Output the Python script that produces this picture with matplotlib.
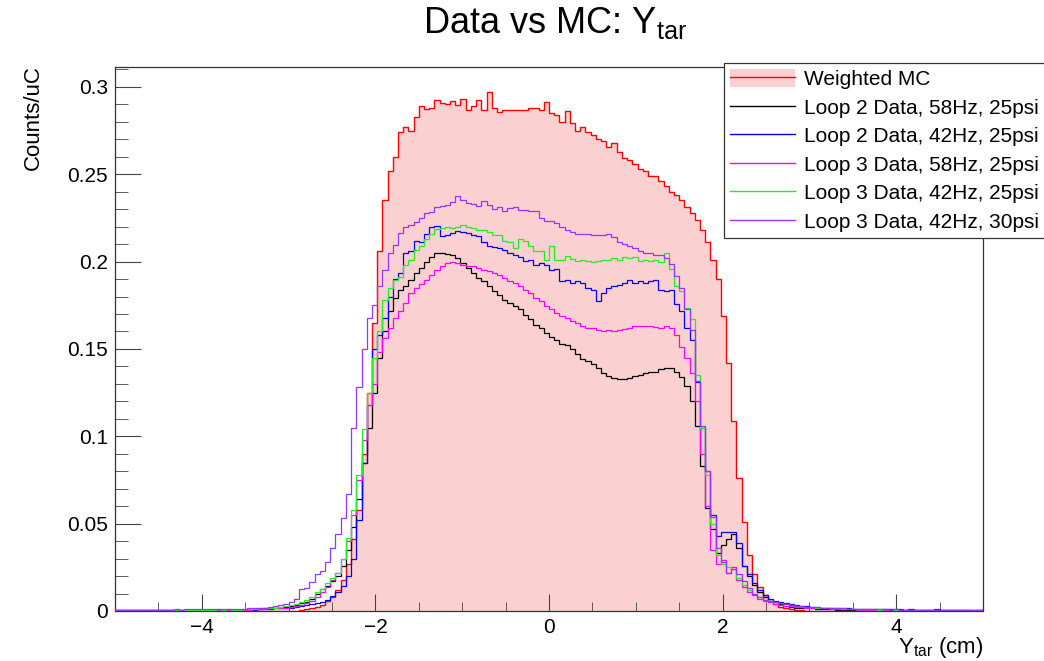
import numpy as np
import matplotlib
matplotlib.use("Agg")
import matplotlib.pyplot as plt
from matplotlib.patches import Patch
from matplotlib.lines import Line2D

plt.rcParams['font.family'] = ['Liberation Sans', 'DejaVu Sans']
plt.rcParams['mathtext.fontset'] = 'custom'
plt.rcParams['mathtext.rm'] = 'Liberation Sans'
plt.rcParams['mathtext.it'] = 'Liberation Sans'

# ---------------- data (bin width 0.06, edges at multiples of 0.06) ----------------
bin_width = 0.06
first_edge_index = -84          # first edge = -84*0.06 = -5.04
# left tails: bins k=-84..-61 ; core: k=-60..59 ; right tails: k=60..83

mc_left = [0.0]*24
mc_core = [
    0, 0, 0, 0, 0, 0, 0, 0, 0, 0,
    0, 0, 0.0005, 0.001, 0.0015, 0.0025, 0.0035, 0.006, 0.008, 0.012,
    0.018, 0.027, 0.041, 0.058, 0.090, 0.125, 0.165, 0.206, 0.235, 0.252,
    0.260, 0.274, 0.277, 0.275, 0.283, 0.289, 0.2875, 0.288, 0.2926, 0.291,
    0.290, 0.292, 0.2897, 0.293, 0.2869, 0.2888, 0.2926, 0.2869, 0.2969, 0.2878,
    0.2859, 0.2869, 0.2865, 0.2865, 0.287, 0.287, 0.2878, 0.2878, 0.2869, 0.2912,
    0.2852, 0.2837, 0.2800, 0.2862, 0.2792, 0.2750, 0.2768, 0.2740, 0.2724, 0.2702,
    0.2688, 0.2655, 0.2679, 0.2626, 0.2592, 0.2583, 0.2559, 0.2530, 0.2516, 0.2492,
    0.249, 0.246, 0.243, 0.240, 0.238, 0.235, 0.231, 0.228, 0.224, 0.218,
    0.211, 0.201, 0.190, 0.169, 0.142, 0.109, 0.076, 0.051, 0.032, 0.021,
    0.014, 0.009, 0.006, 0.004, 0.0025, 0.0015, 0.001, 0.0005, 0.0003, 0,
    0, 0, 0, 0, 0, 0, 0, 0, 0, 0,
]
mc_right = [0.0]*24

black_left = [0.0004, 0.0005, 0.0004, 0.0005, 0.0006, 0.0005, 0.0004, 0.0006,
              0.0005, 0.0006, 0.0005, 0.0006, 0.0007, 0.0006, 0.0006, 0.0007,
              0.0007, 0.0006, 0.0007, 0.0008, 0.0007, 0.0008, 0.0007, 0.0008]
black_core = [
    0.0008, 0.0008, 0.001, 0.001, 0.0012, 0.0015, 0.0015, 0.002, 0.002, 0.0025,
    0.003, 0.0035, 0.0045, 0.005, 0.007, 0.0097, 0.0126, 0.0145, 0.0173, 0.0202,
    0.026, 0.035, 0.048, 0.064, 0.085, 0.105, 0.125, 0.145, 0.160, 0.172,
    0.179, 0.184, 0.186, 0.1897, 0.1935, 0.1965, 0.2000, 0.2025, 0.2050, 0.2048,
    0.2045, 0.2040, 0.2021, 0.1992, 0.1964, 0.1935, 0.1907, 0.1888, 0.1859, 0.1830,
    0.1811, 0.1783, 0.1764, 0.1745, 0.1726, 0.1697, 0.1669, 0.1640, 0.1621, 0.1592,
    0.1570, 0.1554, 0.1526, 0.1520, 0.1497, 0.1469, 0.1440, 0.1430, 0.1412, 0.1390,
    0.1364, 0.1345, 0.1335, 0.1330, 0.1330, 0.1335, 0.1345, 0.1350, 0.1360, 0.1370,
    0.1370, 0.1383, 0.1390, 0.1390, 0.1370, 0.1340, 0.1290, 0.1200, 0.1060, 0.0830,
    0.059, 0.047, 0.033, 0.038, 0.041, 0.044, 0.036, 0.026, 0.020, 0.015,
    0.011, 0.008, 0.006, 0.005, 0.004, 0.003, 0.0025, 0.002, 0.002, 0.0015,
    0.0015, 0.0012, 0.001, 0.001, 0.001, 0.0008, 0.0008, 0.0008, 0.0006, 0.0006,
]
black_right = [0.0006, 0.0005, 0.0005, 0.0006, 0.0005, 0.0004, 0.0005, 0.0004,
               0.0004, 0.0005, 0.0004, 0.0003, 0.0004, 0.0004, 0.0003, 0.0004,
               0.0003, 0.0003, 0.0004, 0.0003, 0.0003, 0.0002, 0.0003, 0.0003]

blue_left = [0.0004, 0.0005, 0.0005, 0.0004, 0.0005, 0.0006, 0.0005, 0.0005,
             0.0006, 0.0005, 0.0006, 0.0006, 0.0005, 0.0006, 0.0006, 0.0007,
             0.0006, 0.0006, 0.0007, 0.0006, 0.0007, 0.0006, 0.0007, 0.0006]
blue_core = [
    0.0006, 0.0006, 0.0008, 0.0008, 0.001, 0.001, 0.0012, 0.0015, 0.0015, 0.002,
    0.002, 0.0025, 0.003, 0.0034, 0.004, 0.0045, 0.005, 0.0065, 0.0088, 0.011,
    0.0145, 0.020, 0.030, 0.052, 0.085, 0.118, 0.150, 0.158, 0.168, 0.180,
    0.190, 0.1935, 0.2050, 0.2059, 0.2116, 0.2112, 0.2159, 0.2197, 0.2202, 0.2145,
    0.2154, 0.2164, 0.2173, 0.2170, 0.2164, 0.2150, 0.2145, 0.2110, 0.2090, 0.2085,
    0.2078, 0.2069, 0.2050, 0.2040, 0.2025, 0.2005, 0.2010, 0.1978, 0.1992, 0.1982,
    0.1954, 0.1958, 0.1890, 0.1897, 0.1880, 0.1890, 0.1880, 0.1850, 0.1840, 0.1775,
    0.1820, 0.1850, 0.1860, 0.1865, 0.1880, 0.1895, 0.1880, 0.1890, 0.1880, 0.1890,
    0.1892, 0.1840, 0.1830, 0.1840, 0.1760, 0.1720, 0.1620, 0.1550, 0.1310, 0.1050,
    0.080, 0.055, 0.043, 0.045, 0.045, 0.045, 0.039, 0.026, 0.021, 0.016,
    0.012, 0.009, 0.007, 0.006, 0.005, 0.0045, 0.004, 0.0035, 0.003, 0.003,
    0.0025, 0.0025, 0.002, 0.002, 0.002, 0.0018, 0.0015, 0.0015, 0.0012, 0.0012,
]
blue_right = [0.0012, 0.001, 0.0012, 0.001, 0.001, 0.0009, 0.001, 0.0009,
              0.0008, 0.0009, 0.0008, 0.0008, 0.0007, 0.0008, 0.0012, 0.0007,
              0.0006, 0.0007, 0.0006, 0.0005, 0.0006, 0.0005, 0.0005, 0.0005]

magenta_left = [0.0005, 0.0004, 0.0005, 0.0005, 0.0006, 0.0005, 0.0005, 0.0006,
                0.0006, 0.0005, 0.0006, 0.0007, 0.0006, 0.0006, 0.0007, 0.0006,
                0.0007, 0.0007, 0.0006, 0.0007, 0.0008, 0.0007, 0.0008, 0.0007]
magenta_core = [
    0.0006, 0.0006, 0.0008, 0.001, 0.001, 0.0012, 0.0015, 0.0015, 0.002, 0.002,
    0.0025, 0.003, 0.0035, 0.0045, 0.006, 0.008, 0.011, 0.014, 0.018, 0.022,
    0.030, 0.040, 0.055, 0.075, 0.098, 0.118, 0.130, 0.148, 0.156, 0.162,
    0.168, 0.172, 0.1764, 0.1821, 0.1850, 0.1870, 0.1897, 0.1926, 0.1954, 0.1975,
    0.1992, 0.1995, 0.1992, 0.1983, 0.1973, 0.1973, 0.1964, 0.1954, 0.1945, 0.1935,
    0.1926, 0.1907, 0.1888, 0.1878, 0.1859, 0.1840, 0.1821, 0.1792, 0.1773, 0.1745,
    0.1726, 0.1707, 0.1688, 0.1680, 0.1659, 0.1650, 0.1630, 0.1620, 0.1620, 0.1611,
    0.1602, 0.1610, 0.1602, 0.1610, 0.1615, 0.1620, 0.1630, 0.1630, 0.1630, 0.1630,
    0.1625, 0.1620, 0.1630, 0.1620, 0.1580, 0.1510, 0.1450, 0.1360, 0.1200, 0.0900,
    0.060, 0.035, 0.027, 0.029, 0.022, 0.025, 0.018, 0.014, 0.011, 0.009,
    0.007, 0.006, 0.005, 0.004, 0.0035, 0.003, 0.0028, 0.0025, 0.0022, 0.002,
    0.002, 0.0018, 0.0015, 0.0015, 0.0012, 0.0012, 0.001, 0.001, 0.001, 0.0008,
]
magenta_right = [0.0008, 0.0007, 0.0008, 0.0007, 0.0007, 0.0006, 0.0007, 0.0006,
                 0.0006, 0.0005, 0.0006, 0.0005, 0.0005, 0.0006, 0.0005, 0.0005,
                 0.0004, 0.0005, 0.0004, 0.0005, 0.0006, 0.0005, 0.0006, 0.0005]

green_left = [0.0005, 0.0005, 0.0006, 0.0005, 0.0006, 0.0006, 0.0005, 0.0006,
              0.0007, 0.0006, 0.0007, 0.0006, 0.0007, 0.0007, 0.0008, 0.0007,
              0.0008, 0.0007, 0.0008, 0.0008, 0.0009, 0.0008, 0.0009, 0.0008]
green_core = [
    0.0008, 0.001, 0.001, 0.0012, 0.0015, 0.0015, 0.002, 0.002, 0.0025, 0.003,
    0.0035, 0.004, 0.005, 0.0065, 0.0078, 0.0107, 0.0126, 0.016, 0.019, 0.022,
    0.030, 0.042, 0.058, 0.078, 0.104, 0.125, 0.145, 0.160, 0.1783, 0.1850,
    0.1897, 0.1910, 0.1983, 0.2011, 0.2069, 0.2090, 0.2130, 0.2160, 0.2185, 0.2195,
    0.2200, 0.2190, 0.2200, 0.2210, 0.2200, 0.2190, 0.2180, 0.2180, 0.2170, 0.2150,
    0.2150, 0.2120, 0.2110, 0.2080, 0.2130, 0.2120, 0.2090, 0.2060, 0.2060, 0.2010,
    0.2090, 0.2010, 0.2010, 0.2030, 0.2015, 0.2005, 0.2010, 0.2005, 0.1995, 0.2005,
    0.2010, 0.2010, 0.2020, 0.2010, 0.2025, 0.2020, 0.2025, 0.2005, 0.2010, 0.2005,
    0.2010, 0.1995, 0.2050, 0.1960, 0.1860, 0.1830, 0.1735, 0.1670, 0.1350, 0.1050,
    0.078, 0.050, 0.032, 0.027, 0.025, 0.024, 0.019, 0.015, 0.012, 0.010,
    0.008, 0.0065, 0.0055, 0.005, 0.0045, 0.004, 0.0035, 0.003, 0.003, 0.0025,
    0.0025, 0.002, 0.002, 0.0018, 0.0015, 0.0015, 0.0012, 0.0012, 0.001, 0.001,
]
green_right = [0.0009, 0.001, 0.0009, 0.0008, 0.0009, 0.0008, 0.0008, 0.0007,
               0.0008, 0.0007, 0.0007, 0.0006, 0.0007, 0.0006, 0.0006, 0.0005,
               0.0006, 0.0005, 0.0005, 0.0005, 0.0004, 0.0005, 0.0004, 0.0004]

purple_left = [0.0006, 0.0005, 0.0006, 0.0006, 0.0007, 0.0006, 0.0007, 0.0007,
               0.0008, 0.0007, 0.0008, 0.0008, 0.0009, 0.0008, 0.0009, 0.0009,
               0.001, 0.0009, 0.001, 0.001, 0.0011, 0.001, 0.0011, 0.0011]
purple_core = [
    0.001, 0.0012, 0.0015, 0.0015, 0.002, 0.002, 0.0025, 0.003, 0.0035, 0.004,
    0.005, 0.007, 0.0126, 0.0130, 0.0164, 0.0211, 0.0230, 0.0278, 0.036, 0.044,
    0.0535, 0.067, 0.105, 0.128, 0.150, 0.168, 0.175, 0.186, 0.1954, 0.2050,
    0.2097, 0.2164, 0.2200, 0.2211, 0.2225, 0.2249, 0.2279, 0.2285, 0.2310, 0.2320,
    0.2326, 0.2340, 0.2373, 0.2350, 0.2337, 0.2330, 0.2320, 0.2345, 0.2326, 0.2302,
    0.2311, 0.2288, 0.2307, 0.2315, 0.2297, 0.2293, 0.2288, 0.2288, 0.2250, 0.2235,
    0.2230, 0.2220, 0.2200, 0.2180, 0.2170, 0.2160, 0.2160, 0.2160, 0.2150, 0.2150,
    0.2150, 0.2160, 0.2140, 0.2110, 0.2100, 0.2090, 0.2080, 0.2060, 0.2050, 0.2050,
    0.2040, 0.2040, 0.2020, 0.1985, 0.1920, 0.1850, 0.1726, 0.1610, 0.1316, 0.1060,
    0.080, 0.054, 0.036, 0.028, 0.022, 0.024, 0.021, 0.017, 0.013, 0.010,
    0.008, 0.0065, 0.0055, 0.005, 0.0045, 0.004, 0.0035, 0.003, 0.003, 0.0025,
    0.0025, 0.0022, 0.002, 0.002, 0.0018, 0.0015, 0.0015, 0.0012, 0.0012, 0.001,
]
purple_right = [0.001, 0.0009, 0.001, 0.0009, 0.0009, 0.0008, 0.0009, 0.0008,
                0.0008, 0.0007, 0.0008, 0.0007, 0.0007, 0.0006, 0.0007, 0.0006,
                0.0006, 0.0005, 0.0006, 0.0005, 0.0005, 0.0006, 0.0005, 0.0005]

labels = ["Weighted MC",
          "Loop 2 Data, 58Hz, 25psi",
          "Loop 2 Data, 42Hz, 25psi",
          "Loop 3 Data, 58Hz, 25psi",
          "Loop 3 Data, 42Hz, 25psi",
          "Loop 3 Data, 42Hz, 30psi"]
colors = ["#ff0000", "#000000", "#0000ff", "#ff00ff", "#22ee22", "#9933ff"]

# ---------------- figure ----------------
W, H = 1044, 661
fig = plt.figure(figsize=(W/100, H/100), dpi=100)
L, R, T, B = 115, 983, 67, 611
ax = fig.add_axes([L/W, 1-B/H, (R-L)/W, (B-T)/H])

mc = np.array(mc_left + mc_core + mc_right)
n_bins = len(mc)
edges = (np.arange(n_bins + 1) + first_edge_index) * bin_width

series = [
    np.array(black_left + black_core + black_right),
    np.array(blue_left + blue_core + blue_right),
    np.array(magenta_left + magenta_core + magenta_right),
    np.array(green_left + green_core + green_right),
    np.array(purple_left + purple_core + purple_right),
]

fill_color = "#fad0d0"
ax.stairs(mc, edges, fill=True, facecolor=fill_color, edgecolor="none", zorder=1)
ax.stairs(mc, edges, color=colors[0], lw=1.0, zorder=2)
for vals, c in zip(series, colors[1:]):
    ax.stairs(vals, edges, color=c, lw=0.9, baseline=None, zorder=3)

ax.set_xlim(-5, 5)
ax.set_ylim(0, 0.3114)
ax.set_xticks([-4, -2, 0, 2, 4])
ax.set_xticklabels(["\u22124", "\u22122", "0", "2", "4"])
ax.set_xticks(np.arange(-5, 5.01, 0.5), minor=True)
ax.set_yticks([0, 0.05, 0.1, 0.15, 0.2, 0.25, 0.3])
ax.set_yticklabels(["0", "0.05", "0.1", "0.15", "0.2", "0.25", "0.3"])
ax.set_yticks(np.arange(0, 0.311, 0.01), minor=True)
ax.tick_params(axis='both', which='both', direction='in', top=False, right=False,
               labelsize=15, color='#444444')
ax.tick_params(axis='x', which='major', length=12, pad=5)
ax.tick_params(axis='x', which='minor', length=6.5)
ax.tick_params(axis='y', which='major', length=19, pad=5)
ax.tick_params(axis='y', which='minor', length=9.5)
for s in ax.spines.values():
    s.set_linewidth(0.9)
    s.set_color('#333333')

fig.text(555/W, 1-5/H, r"Data vs MC: Y$_{\mathrm{tar}}$", ha='center', va='top', fontsize=26)
fig.text(33/W, 1-65/H, "Counts/uC", rotation=90, ha='center', va='top', fontsize=16)
fig.text(983/W, 1-653/H, r"Y$_{\mathrm{tar}}$ (cm)", ha='right', va='baseline', fontsize=16)

handles = [(Patch(facecolor=fill_color, edgecolor="none"), Line2D([], [], color=colors[0], lw=1.0))]
handles += [Line2D([], [], color=c, lw=1.0) for c in colors[1:]]
leg = fig.legend(handles, labels, loc='upper left', bbox_to_anchor=(724/W, 1-63/H),
                 frameon=True, fancybox=False, framealpha=1, edgecolor='#333333',
                 fontsize=15, handlelength=3.1, handleheight=0.9, handletextpad=0.45,
                 labelspacing=0.42, borderpad=0.3, borderaxespad=0)
leg.get_frame().set_linewidth(0.9)

fig.savefig("out.png", dpi=100)
